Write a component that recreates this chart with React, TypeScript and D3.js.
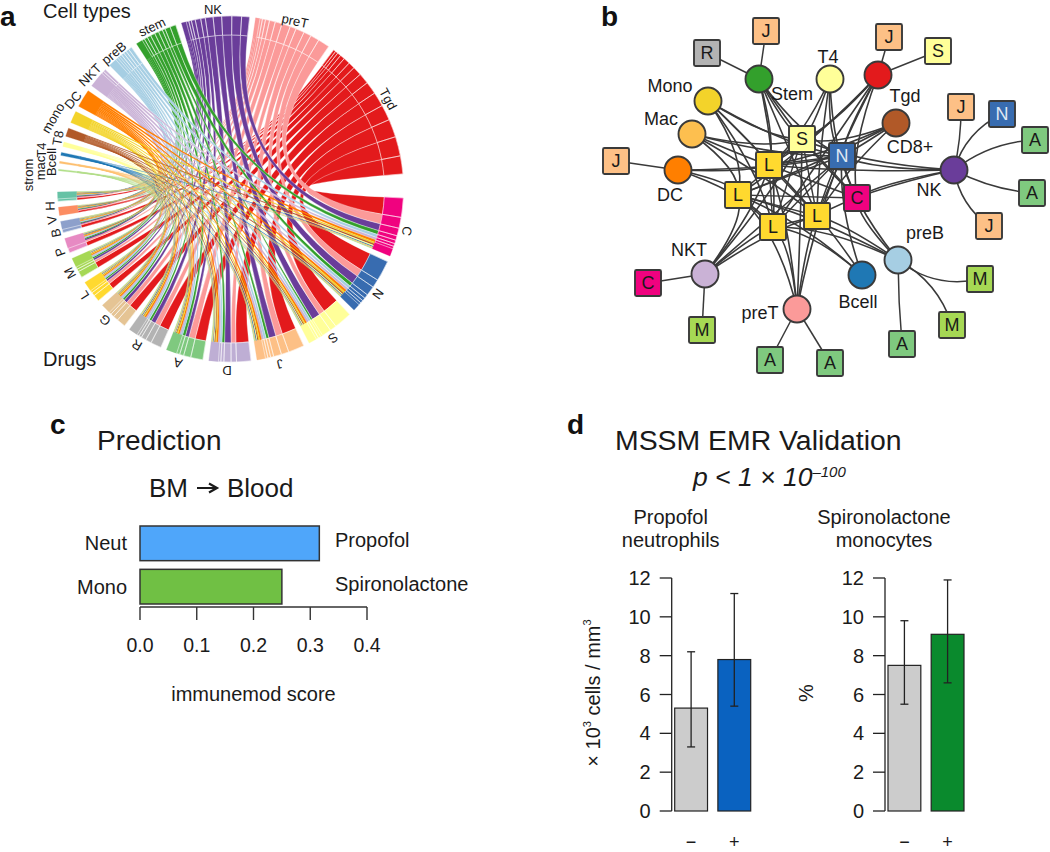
import React from "react";
import * as d3 from "d3";

// ---------- Panel a data ----------
const drugNames = ["C","N","S","J","D","A","R","G","L","M","P","B","V","H"];
const drugColors = ["#f0027f","#386cb0","#ffff99","#fdc086","#beaed4","#7fc97f","#b3b3b3","#e5c494","#ffd92f","#a6d854","#e78ac3","#8da0cb","#fc8d62","#66c2a5"];
const drugSpan = [19.8,19.6,16.5,16.2,14,12.5,12,10,7.5,7,5,3.8,2.7,3.1];
const cellNames = ["Tgd","preT","NK","stem","preB","NKT","DC","mono","T8","T4","Bcell","mac","strom"];
const cellColors = ["#e31a1c","#fb9a99","#6a3d9a","#33a02c","#a6cee3","#cab2d6","#ff7f00","#f3d32a","#b15928","#ffff99","#1f78b4","#fdbf6f","#b2df8a"];
const cellSpan = [48.4,26.2,22.8,14.4,9.4,7,6,4,2.8,1.5,1,0.6,0.5];
const linkTgd   = [6.0,6.5,6.0,5.2,4.8,4.2,3.6,3.0,2.2,2.2,1.6,1.2,0.9,0.8];
const linkPreT  = [3.4,2.6,2.2,2.5,1.8,2.5,2.0,1.7,1.2,0.9,0.7,0.5,0.4,0.4];
const linkNK    = [2.4,3.0,3.1,2.6,2.4,1.4,1.7,1.2,0.8,0.8,0.5,0.4,0.3,0.3];
const linkStem  = [1.4,1.3,0.7,1.0,1.0,1.1,0.9,0.8,0.6,0.5,0.4,0.3,0.2,0.2];
const linkPreB  = [1.1,1.0,0.9,0.9,0.8,0.7,0.8,0.6,0.5,0.5,0.3,0.3,0.2,0.2];
const linkNKT   = [0.9,0.9,0.8,0.8,0.7,0.6,0.7,0.5,0.4,0.4,0.3,0.2,0.2,0.2];
const linkDC    = [0.8,0.8,0.7,0.7,0.6,0.6,0.6,0.5,0.4,0.4,0.3,0.3,0.2,0.2];
const linkMono  = [0.6,0.6,0.5,0.5,0.4,0.5,0.4,0.4,0.3,0.3,0.2,0.2,0.2,0.1];
const linkT8    = [0.5,0.5,0.4,0.4,0.4,0.3,0.3,0.3,0.2,0.2,0.2,0.2,0.1,0.1];
const linkT4    = [0.4,0.3,0.3,0.3,0.3,0.2,0.2,0.2,0.2,0.2,0.1,0.1,0.1,0.1];
const linkBcell = [0.3,0.3,0.2,0.3,0.2,0.2,0.3,0.2,0.2,0.2,0.2,0.2,0.2,0.2];
const linkMac   = [0.3,0.3,0.3,0.3,0.3,0.3,0.3,0.3,0.3,0.2,0.2,0.2,0.2,0.2];
const linkStrom = [0.3,0.3,0.3,0.3,0.3,0.3,0.3,0.3,0.3,0.3,0.2,0.2,0.2,0.2];
const linkMatrix = [linkTgd,linkPreT,linkNK,linkStem,linkPreB,linkNKT,linkDC,linkMono,linkT8,linkT4,linkBcell,linkMac,linkStrom];

// ---------- Panel b data ----------
const cellNodes = ["Stem","T4","Tgd","Mono","Mac","CD8+","DC","NK","NKT","preT","Bcell","preB"];
const cellNodeColors = ["#33a02c","#ffff99","#e31a1c","#f3d32a","#fdbf4f","#b15928","#ff7f00","#6a3d9a","#cab2d6","#fb9a99","#1f78b4","#a6cee3"];
const hubNodes = ["S","N","L1","L2","L3","L4","Cc"];
const hubLinks: [string,string[]][] = [
  ["Stem",["L1","S","N","L4","Cc","L3"]],
  ["T4",["S","N","L4","L1","Cc"]],
  ["Tgd",["S","N","L1","L4","L3","Cc","L2"]],
  ["Mono",["L1","S","N","L3","L2","L4"]],
  ["Mac",["L1","S","L2","N","L4"]],
  ["CD8+",["S","N","L1","L4","L2"]],
  ["DC",["L1","L2","N","L3"]],
  ["NK",["N","L1","Cc","L4","S"]],
  ["NKT",["L1","L2","L3","L4","N","S"]],
  ["preT",["L3","L4","L1","N","S","L2"]],
  ["Bcell",["N","L4","L3","L2"]],
  ["preB",["N","L4","L3","Cc","L2"]],
];
const leafLetters = ["R","J","J","S","J","N","A","A","J","J","C","M","A","A","A","M","M"];
const leafParents = ["Stem","Stem","Tgd","Tgd","NK","NK","NK","NK","NK","DC","NKT","NKT","preT","preT","preB","preB","preB"];
const leafColor: Record<string,string> = {R:"#b3b3b3",J:"#fdc086",S:"#ffff99",N:"#386cb0",A:"#7fc97f",M:"#a6d854",C:"#f0027f",L:"#ffd92f"};

// ---------- Panel c data ----------
const predCats = ["Neut","Mono"];
const predDrugs = ["Propofol","Spironolactone"];
const predVals = [0.316,0.25];
const predTicks = [0,0.1,0.2,0.3,0.4];

// ---------- Panel d data ----------
const yTicksD = [0,2,4,6,8,10,12];
const groupLabels = ["−","+"];
const neutVals = [5.3,7.8];
const neutLow = [3.3,5.4];
const neutHigh = [8.2,11.2];
const monoVals = [7.5,9.1];
const monoLow = [5.5,6.6];
const monoHigh = [9.8,11.9];

// ---------- Layout tables ----------
const F = "'Liberation Sans', Arial, sans-serif";
const INK = "#1a1a1a";
const nodePos: Record<string,[number,number]> = {
  Stem:[759,79],T4:[830,79],Tgd:[878,75],Mono:[708,101],Mac:[692,134],"CD8+":[896,123],DC:[678,170],NK:[954,170],NKT:[705,274],preT:[797,309],Bcell:[862,275],preB:[898,260],
  S:[802,139],N:[842,156],L1:[769,165],L2:[738,195],L3:[773,227],L4:[817,216],Cc:[857,198],
};
const leafPos: [number,number][] = [[707,53],[766,31],[889,37],[938,51],[961,107],[1002,114],[1035,140],[1032,193],[989,226],[616,161],[648,283],[702,330],[770,360],[830,363],[902,344],[952,325],[980,279]];
const leafBend = [0,0,0,0,0.06,-0.22,-0.16,0.1,0.2,0,0,0,0,0,0.02,-0.2,0.24];
const cellLabelPos: Record<string,[number,number]> = {
  Stem:[792,94],T4:[828,57],Tgd:[905,96],Mono:[670,86],Mac:[661,119],"CD8+":[910,147],DC:[670,195],NK:[929,190],NKT:[689,250],preT:[760,313],Bcell:[858,302],preB:[925,233],
};
const chordLabelPos: Record<string,[number,number,number]> = {
  strom:[28,175,-90],mac:[40,168,-90],Bcell:[51,162,-90],T4:[41,150,-90],T8:[58,138,-80],mono:[53,118,-60],DC:[73,100,-50],NKT:[90,75,-45],preB:[114,53,-40],stem:[152,27,-25],NK:[213,9,0],preT:[295,21,12],Tgd:[388,99,62],
  C:[407,231,102],N:[378,294,125],S:[333,338,145],J:[280,364,165],D:[227,370,180],A:[178,363,195],R:[137,345,210],G:[105,320,225],L:[84,295,238],M:[70,273,242],P:[60,252,250],B:[56,233,258],V:[52,220,262],H:[50,206,268],
};
const MIN_DIVIDED_DEG = 0.75;

const rad = (d: number) => (d * Math.PI) / 180;

function Chord() {
  const cx = 230.5, cy = 189, R = 173, Rin = 154;
  const totalSpan = d3.sum(drugSpan) + d3.sum(cellSpan);
  const extraA = 5, extraB = 6;
  const gap = (360 - totalSpan - extraA - extraB) / (drugSpan.length + cellSpan.length);
  const start = 93;
  const drugStart: number[] = [];
  let a = start;
  drugSpan.forEach((s) => { drugStart.push(a); a += s + gap; });
  a += extraA;
  const cellStart: number[] = new Array(cellSpan.length);
  for (let i = cellSpan.length - 1; i >= 0; i--) { cellStart[i] = a; a += cellSpan[i] + gap; }

  const ribbon = d3.ribbon<any, any>().radius(Rin);
  const ringArc = d3.arc<any>().innerRadius(Rin).outerRadius(R);

  const rowSum = linkMatrix.map((r) => d3.sum(r));
  const colSum = drugNames.map((_, j) => d3.sum(linkMatrix, (r) => r[j]));

  const cellEnd: Record<string, [number, number]> = {};
  cellNames.forEach((_, i) => {
    let p = cellStart[i];
    for (let j = drugNames.length - 1; j >= 0; j--) {
      const w = (linkMatrix[i][j] / rowSum[i]) * cellSpan[i];
      cellEnd[i + "-" + j] = [p, p + w];
      p += w;
    }
  });
  const drugEnd: Record<string, [number, number]> = {};
  drugNames.forEach((_, j) => {
    let p = drugStart[j];
    cellNames.forEach((__, i) => {
      const w = (linkMatrix[i][j] / colSum[j]) * drugSpan[j];
      drugEnd[i + "-" + j] = [p, p + w];
      p += w;
    });
  });

  const sector = (s: number, span: number) => ringArc({ startAngle: rad(s), endAngle: rad(s + span) }) as string;

  return (
    <g>
      <g transform={`translate(${cx},${cy})`}>
        {cellNames.map((_, i) =>
          drugNames.map((__, j) => {
            const s = cellEnd[i + "-" + j], t = drugEnd[i + "-" + j];
            const d = ribbon({
              source: { startAngle: rad(s[0]), endAngle: rad(s[1]) },
              target: { startAngle: rad(t[0]), endAngle: rad(t[1]) },
            }) as unknown as string;
            const wide = s[1] - s[0] > MIN_DIVIDED_DEG;
            return <path key={i + "-" + j} d={d} fill={cellColors[i]} stroke={wide ? "#fff" : cellColors[i]} strokeWidth={wide ? 0.35 : 0.15} />;
          })
        )}
        {cellNames.map((_, i) => (
          <path key={"cs" + i} d={sector(cellStart[i], cellSpan[i])} fill={cellColors[i]} stroke={cellColors[i]} strokeWidth={0.3} />
        ))}
        {drugNames.map((_, j) => (
          <path key={"ds" + j} d={sector(drugStart[j], drugSpan[j])} fill={drugColors[j]} stroke={drugColors[j]} strokeWidth={0.3} />
        ))}
        {cellNames.map((_, i) =>
          drugNames.map((__, j) => {
            const s = cellEnd[i + "-" + j];
            if (s[1] - s[0] <= MIN_DIVIDED_DEG) return null;
            return <path key={i + "r" + j} d={ringArc({ startAngle: rad(s[0]), endAngle: rad(s[1]) }) as string} fill="none" stroke="#fff" strokeWidth={0.5} />;
          })
        )}
        {drugNames.map((_, j) =>
          cellNames.map((__, i) => {
            const t = drugEnd[i + "-" + j];
            if (t[1] - t[0] <= MIN_DIVIDED_DEG) return null;
            return <path key={j + "d" + i} d={ringArc({ startAngle: rad(t[0]), endAngle: rad(t[1]) }) as string} fill="none" stroke="#fff" strokeWidth={0.5} />;
          })
        )}
      </g>
      {[...cellNames, ...drugNames].map((n) => {
        const p = chordLabelPos[n];
        return (
          <text key={n} transform={`translate(${p[0]},${p[1]}) rotate(${p[2]})`} textAnchor="middle" dominantBaseline="central" fontSize={13} fill={INK}>
            {n}
          </text>
        );
      })}
      <text x={43} y={18} fontSize={20} fill={INK}>Cell types</text>
      <text x={43} y={366} fontSize={20} fill={INK}>Drugs</text>
    </g>
  );
}

function curve(p: [number, number], q: [number, number], c: [number, number]) {
  const path = d3.path();
  path.moveTo(p[0], p[1]);
  path.quadraticCurveTo(c[0], c[1], q[0], q[1]);
  return path.toString();
}

function Network() {
  const center: [number, number] = [805, 185];
  const hubEdges = hubLinks.flatMap(([c, hs]) =>
    hs.map((h) => {
      const p = nodePos[c], q = nodePos[h];
      const m: [number, number] = [(p[0] + q[0]) / 2, (p[1] + q[1]) / 2];
      const ctl: [number, number] = [m[0] + (center[0] - m[0]) * 0.3, m[1] + (center[1] - m[1]) * 0.3];
      return { key: c + h, d: curve(p, q, ctl) };
    })
  );
  const hubCrossLinks = [["S","L2"],["N","L2"],["L1","N"],["N","L3"],["S","L4"],["L1","Cc"],["L2","L4"],["L3","L4"],["L1","L3"],["L2","Cc"],["L1","L4"],["S","L3"],["L1","S"],["N","L4"],["S","Cc"],["L2","L3"]];
  return (
    <g>
      {hubEdges.map((e) => <path key={e.key} d={e.d} fill="none" stroke="#3a3a3a" strokeWidth={1.6} />)}
      {hubCrossLinks.map(([a, b]) => (
        <line key={a + b} x1={nodePos[a][0]} y1={nodePos[a][1]} x2={nodePos[b][0]} y2={nodePos[b][1]} stroke="#3a3a3a" strokeWidth={1.4} />
      ))}
      {leafLetters.map((_, i) => {
        const p = nodePos[leafParents[i]], q = leafPos[i];
        const dx = q[0] - p[0], dy = q[1] - p[1];
        const ctl: [number, number] = [(p[0] + q[0]) / 2 - dy * leafBend[i], (p[1] + q[1]) / 2 + dx * leafBend[i]];
        return <path key={"leaf" + i} d={curve(p, q, ctl)} fill="none" stroke="#3a3a3a" strokeWidth={1.5} />;
      })}
      {cellNodes.map((n, i) => (
        <circle key={n} cx={nodePos[n][0]} cy={nodePos[n][1]} r={13.5} fill={cellNodeColors[i]} stroke="#3a3a3a" strokeWidth={1.9} />
      ))}
      {cellNodes.map((n) => (
        <text key={n} x={cellLabelPos[n][0]} y={cellLabelPos[n][1]} textAnchor="middle" dominantBaseline="central" fontSize={18} fill={INK}>{n}</text>
      ))}
      {hubNodes.map((h) => {
        const letter = h === "Cc" ? "C" : h[0];
        const p = nodePos[h];
        return (
          <g key={h}>
            <rect x={p[0] - 13} y={p[1] - 13} width={26} height={26} rx={1.5} fill={leafColor[letter]} stroke="#3a3a3a" strokeWidth={1.9} />
            <text x={p[0]} y={p[1]} textAnchor="middle" dominantBaseline="central" fontSize={18} fill={letter === "N" ? "#dfe7f3" : INK}>{letter}</text>
          </g>
        );
      })}
      {leafLetters.map((l, i) => {
        const p = leafPos[i];
        return (
          <g key={"leafnode" + i}>
            <rect x={p[0] - 13} y={p[1] - 13} width={26} height={26} rx={1.5} fill={leafColor[l]} stroke="#3a3a3a" strokeWidth={1.9} />
            <text x={p[0]} y={p[1]} textAnchor="middle" dominantBaseline="central" fontSize={18} fill={l === "N" ? "#dfe7f3" : INK}>{l}</text>
          </g>
        );
      })}
    </g>
  );
}

function PanelC() {
  const x = d3.scaleLinear().domain([0, 0.4]).range([140, 367]);
  const y = d3.scaleBand().domain(predCats).range([526, 604]).paddingInner(0.2);
  const barColors = ["#4fa6fa", "#70c044"];
  const axisY = 607;
  return (
    <g>
      <text x={97} y={450} fontSize={28} fill={INK}>Prediction</text>
      <text x={149} y={497} fontSize={26} fill={INK}>BM</text>
      <path d="M197 488H215M209 483.5L217 488L209 492.5" fill="none" stroke={INK} strokeWidth={2.2} />
      <text x={227} y={497} fontSize={26} fill={INK}>Blood</text>
      {predCats.map((c, i) => (
        <g key={c}>
          <rect x={x(0)} y={y(c)} width={x(predVals[i]) - x(0)} height={y.bandwidth()} fill={barColors[i]} stroke="#333" strokeWidth={1.5} />
          <text x={127} y={(y(c) as number) + y.bandwidth() / 2} textAnchor="end" dominantBaseline="central" fontSize={20} fill={INK}>{c}</text>
          <text x={335} y={(y(c) as number) + y.bandwidth() / 2 - 3} dominantBaseline="central" fontSize={20} fill={INK}>{predDrugs[i]}</text>
        </g>
      ))}
      <line x1={x(0)} x2={x(0.4)} y1={axisY} y2={axisY} stroke="#333" strokeWidth={1.4} />
      {predTicks.map((t) => (
        <g key={t}>
          <line x1={x(t)} x2={x(t)} y1={axisY} y2={620} stroke="#333" strokeWidth={1.4} />
          <text x={x(t)} y={645} textAnchor="middle" dominantBaseline="central" fontSize={19.5} fill={INK}>{d3.format(".1f")(t)}</text>
        </g>
      ))}
      <text x={253.5} y={694} textAnchor="middle" dominantBaseline="central" fontSize={20} fill={INK}>immunemod score</text>
    </g>
  );
}

function SmallBars({ axisX, vals, low, high, color, title }: { axisX: number; vals: number[]; low: number[]; high: number[]; color: string; title: string[] }) {
  const y = d3.scaleLinear().domain([0, 12]).range([811, 578]);
  const x = d3.scaleBand().domain(groupLabels).range([axisX + 3, axisX + 79]).paddingInner(0.24);
  const fills = ["#cccccc", color];
  const titleX = axisX - 1;
  return (
    <g>
      <text x={titleX} y={517} textAnchor="middle" dominantBaseline="central" fontSize={20} fill={INK}>{title[0]}</text>
      <text x={titleX} y={540} textAnchor="middle" dominantBaseline="central" fontSize={20} fill={INK}>{title[1]}</text>
      <line x1={axisX} x2={axisX} y1={y(0)} y2={y(12)} stroke="#222" strokeWidth={1.3} />
      {yTicksD.map((t) => (
        <g key={t}>
          <line x1={axisX - 12} x2={axisX} y1={y(t)} y2={y(t)} stroke="#222" strokeWidth={1.3} />
          <text x={axisX - 21} y={y(t)} textAnchor="end" dominantBaseline="central" fontSize={20} fill={INK}>{t}</text>
        </g>
      ))}
      {groupLabels.map((g, i) => {
        const bx = x(g) as number;
        const mid = bx + x.bandwidth() / 2;
        return (
          <g key={g}>
            <rect x={bx} y={y(vals[i])} width={x.bandwidth()} height={y(0) - y(vals[i])} fill={fills[i]} stroke="#222" strokeWidth={1.2} />
            <line x1={mid} x2={mid} y1={y(low[i])} y2={y(high[i])} stroke="#222" strokeWidth={1.3} />
            <line x1={mid - 4} x2={mid + 4} y1={y(low[i])} y2={y(low[i])} stroke="#222" strokeWidth={1.3} />
            <line x1={mid - 4} x2={mid + 4} y1={y(high[i])} y2={y(high[i])} stroke="#222" strokeWidth={1.3} />
            <text x={mid} y={848} textAnchor="middle" fontSize={18} fill={INK}>{g}</text>
          </g>
        );
      })}
    </g>
  );
}

function PanelD() {
  return (
    <g>
      <text x={615} y={450} fontSize={28.4} fill={INK}>MSSM EMR Validation</text>
      <text x={693} y={486} fontSize={26.5} fontStyle="italic" fill={INK}>
        p {"<"} 1 × 10<tspan dy={-9} fontSize={15}>–100</tspan>
      </text>
      <SmallBars axisX={671.7} vals={neutVals} low={neutLow} high={neutHigh} color="#0a62c0" title={["Propofol", "neutrophils"]} />
      <SmallBars axisX={885} vals={monoVals} low={monoLow} high={monoHigh} color="#0a8a2d" title={["Spironolactone", "monocytes"]} />
      <text transform="translate(593,693) rotate(-90)" textAnchor="middle" dominantBaseline="central" fontSize={20} fill={INK}>
        × 10<tspan dy={-6} fontSize={11}>3</tspan><tspan dy={6}> cells / mm</tspan><tspan dy={-6} fontSize={11}>3</tspan>
      </text>
      <text transform="translate(806,693) rotate(-90)" textAnchor="middle" dominantBaseline="central" fontSize={20} fill={INK}>%</text>
    </g>
  );
}

export default function App() {
  return (
    <svg width={1050} height={852} viewBox="0 0 1050 852" style={{ position: "absolute", left: 0, top: 0, fontFamily: F, background: "#fff" }}>
      <Chord />
      <Network />
      <PanelC />
      <PanelD />
      <g fontWeight="bold" fontSize={28} fill="#111">
        <text x={0} y={26}>a</text>
        <text x={601} y={26}>b</text>
        <text x={50} y={434}>c</text>
        <text x={567} y={434}>d</text>
      </g>
    </svg>
  );
}
